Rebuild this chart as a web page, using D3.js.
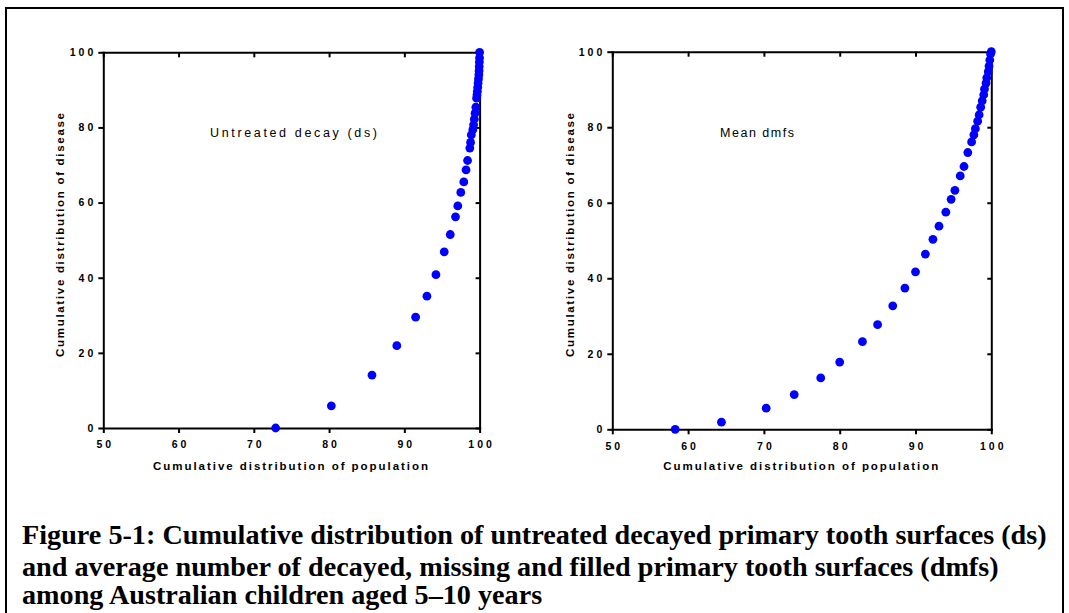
<!DOCTYPE html>
<html><head><meta charset="utf-8">
<script src="https://cdn.jsdelivr.net/npm/d3@7"></script>
<style>body{margin:0;background:#fff} svg{display:block}</style>
</head><body>
<svg id="c" width="1069" height="613"></svg>
<script>
// ---------------- data ----------------
const xTicks = [50, 60, 70, 80, 90, 100];
const yTicks = [0, 20, 40, 60, 80, 100];
const panelTitles = ["Untreated decay (ds)", "Mean dmfs"];
const xTitle = "Cumulative distribution of population";
const yTitle = "Cumulative distribution of disease";

const dsX = [72.9, 80.3, 85.7, 89.0, 91.5, 93.0, 94.2, 95.3, 96.1, 96.8, 97.1, 97.5, 97.9, 98.2, 98.4, 98.7, 98.8, 98.9, 99.1, 99.2, 99.3, 99.4, 99.5,
             99.6, 99.65, 99.7, 99.75, 99.8, 99.85, 99.9, 99.93, 99.95, 99.97, 99.99, 100];
const dsY = [0, 5.9, 14.1, 21.9, 29.5, 35.1, 40.8, 46.9, 51.5, 56.2, 59.1, 62.7, 65.5, 68.7, 71.2, 74.5, 76.0, 78.0, 79.4, 80.7, 82.2, 83.8, 85.4,
             87.8, 88.7, 89.6, 90.7, 91.8, 92.9, 94.0, 95.1, 96.2, 97.4, 98.5, 100];

const dmfsX = [58.3, 64.4, 70.3, 74.0, 77.5, 80.0, 83.0, 85.0, 87.0, 88.6, 90.0, 91.3, 92.3, 93.1, 94.0, 94.7, 95.2, 95.9, 96.4, 96.9, 97.4, 97.7,
               97.9, 98.2, 98.4, 98.6, 98.8, 99.0, 99.1, 99.3, 99.4, 99.6, 99.7, 99.8, 99.9, 100];
const dmfsY = [0, 1.9, 5.6, 9.2, 13.6, 17.8, 23.2, 27.7, 32.7, 37.4, 41.7, 46.4, 50.3, 53.8, 57.5, 60.9, 63.3, 67.1, 69.6, 73.3, 76.1, 78.0,
               79.6, 81.6, 83.3, 85.3, 87.0, 88.6, 90.1, 91.7, 93.1, 94.7, 96.2, 97.8, 99.4, 100];

const captionLines = [
  "Figure 5-1: Cumulative distribution of untreated decayed primary tooth surfaces (ds)",
  "and average number of decayed, missing and filled primary tooth surfaces (dmfs)",
  "among Australian children aged 5\u201310 years"
];

// ---------------- layout ----------------
const svg = d3.select("#c");
const SANS = "'Liberation Sans', Arial, sans-serif";

svg.append("rect").attr("x", 6).attr("y", 8).attr("width", 1057).attr("height", 700)
  .attr("fill", "none").attr("stroke", "#000").attr("stroke-width", 2);

function fitSpacing(sel, target) {
  const node = sel.node();
  sel.attr("letter-spacing", 0);
  const w0 = node.getComputedTextLength();
  const n = sel.text().length;
  const ls = (target - w0) / (n - 1);
  sel.attr("letter-spacing", ls);
  return ls;
}

const panels = [
  { xs: [103.3, 479.6], ys: [428, 52.3], X: dsX, Y: dsY, title: panelTitles[0],
    titlePos: [210, 137], titleW: 167, xT: [290.5, 469.5], yT: [64.3, 235] },
  { xs: [612.3, 991.3], ys: [429.3, 51.7], X: dmfsX, Y: dmfsY, title: panelTitles[1],
    titlePos: [720, 137], titleW: 74, xT: [800.8, 470], yT: [573.5, 235] }
];

const TICK_LS = 3;

panels.forEach(p => {
  const x = d3.scaleLinear().domain([50, 100]).range(p.xs);
  const y = d3.scaleLinear().domain([0, 100]).range(p.ys);
  const g = svg.append("g");

  const styleAxis = ax => {
    ax.select(".domain").attr("stroke", "#000").attr("stroke-width", 2).attr("stroke-linecap", "square");
    ax.selectAll(".tick line").attr("stroke", "#000").attr("stroke-width", 2);
    ax.selectAll(".tick text").attr("font-family", SANS).attr("font-weight", "bold")
      .attr("font-size", 10.5).attr("fill", "#000").attr("letter-spacing", TICK_LS);
  };

  const top = g.append("g").attr("transform", `translate(0,${p.ys[1]})`)
    .call(d3.axisTop(x).tickValues(xTicks).tickSize(-5).tickSizeOuter(0).tickFormat(""));
  styleAxis(top);
  const right = g.append("g").attr("transform", `translate(${p.xs[1]},0)`)
    .call(d3.axisRight(y).tickValues(yTicks).tickSize(-4).tickSizeOuter(0).tickFormat(""));
  styleAxis(right);
  const bottom = g.append("g").attr("transform", `translate(0,${p.ys[0]})`)
    .call(d3.axisBottom(x).tickValues(xTicks).tickSize(5).tickSizeOuter(0).tickPadding(8));
  styleAxis(bottom);
  bottom.selectAll(".tick text").attr("dx", TICK_LS / 2);
  const left = g.append("g").attr("transform", `translate(${p.xs[0]},0)`)
    .call(d3.axisLeft(y).tickValues(yTicks).tickSize(5).tickSizeOuter(0).tickPadding(2));
  styleAxis(left);

  g.append("g").selectAll("circle").data(p.X.map((v, i) => [v, p.Y[i]])).join("circle")
    .attr("cx", d => x(d[0])).attr("cy", d => y(d[1])).attr("r", 4.4).attr("fill", "#0000ff");

  const t = g.append("text").attr("x", p.titlePos[0]).attr("y", p.titlePos[1])
    .attr("font-family", SANS).attr("font-size", 12.5).attr("fill", "#000").text(p.title);
  fitSpacing(t, p.titleW);

  const xt = g.append("text").attr("x", p.xT[0]).attr("y", p.xT[1]).attr("text-anchor", "middle")
    .attr("font-family", SANS).attr("font-weight", "bold").attr("font-size", 11.5).attr("fill", "#000").text(xTitle);
  const lsx = fitSpacing(xt, 275);
  xt.attr("dx", lsx / 2);

  const yt = g.append("text").attr("transform", `translate(${p.yT[0]},${p.yT[1]}) rotate(-90)`)
    .attr("text-anchor", "middle")
    .attr("font-family", SANS).attr("font-weight", "bold").attr("font-size", 11.5).attr("fill", "#000").text(yTitle);
  const lsy = fitSpacing(yt, 244);
  yt.attr("dx", lsy / 2);
});

// caption
const cap = svg.append("g");
const baselines = [544, 575.5, 604];
const lines = captionLines.map((s, i) => cap.append("text").attr("x", 22).attr("y", baselines[i])
  .attr("font-family", "'Liberation Serif', 'Times New Roman', serif").attr("font-weight", "bold")
  .attr("font-size", 20).attr("fill", "#000").text(s));
const w1 = lines[0].node().getComputedTextLength();
const fs = 20 * 1025 / w1;
lines.forEach(l => l.attr("font-size", fs));
</script>
</body></html>
